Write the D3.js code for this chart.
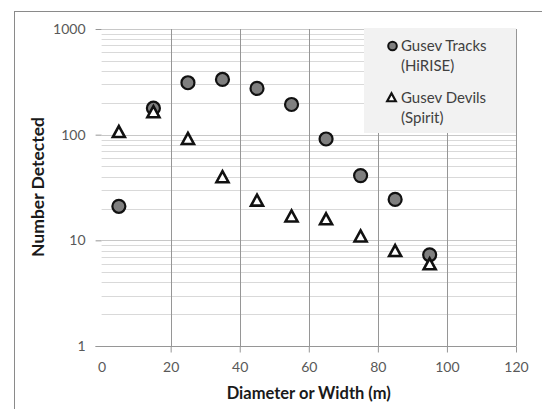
<!DOCTYPE html>
<html>
<head>
<meta charset="utf-8">
<script src="https://cdn.jsdelivr.net/npm/d3@7"></script>
<style>
  html, body { margin: 0; padding: 0; background: #fff; }
  svg { display: block; font-family: Lato, "Open Sans", sans-serif; }
</style>
</head>
<body>
<svg id="chart" width="542" height="409"></svg>
<script>
// ---- data ----
const diameters = [5, 15, 25, 35, 45, 55, 65, 75, 85, 95];
const gusevTracks = [21, 178, 310, 333, 274, 193, 91, 41, 24.4, 7.3];
const gusevDevils = [107, 165, 92, 40, 24, 17, 16, 11, 8, 6];
const xTicks = [0, 20, 40, 60, 80, 100, 120];
const yTicks = [1, 10, 100, 1000];
const seriesNames = [["Gusev Tracks", "(HiRISE)"], ["Gusev Devils", "(Spirit)"]];
const xTitle = "Diameter or Width (m)";
const yTitle = "Number Detected";

const svg = d3.select("#chart");

// outer chart border (extends past the image)
svg.append("rect").attr("x", 14.5).attr("y", 11.5).attr("width", 700).attr("height", 600)
  .attr("fill", "none").attr("stroke", "#8a8a8a").attr("stroke-width", 1);

const x = d3.scaleLinear().domain([0, 120]).range([101.6, 516]);
const y = d3.scaleLog().domain([1, 1000]).range([346, 29]);

// minor horizontal gridlines
const minor = [];
for (let d = 1; d < 1000; d *= 10) for (let k = 2; k <= 9; k++) minor.push(d * k);
svg.append("g").selectAll("line").data(minor).join("line")
  .attr("x1", x(0)).attr("x2", x(120))
  .attr("y1", d => Math.round(y(d)) + 0.5).attr("y2", d => Math.round(y(d)) + 0.5)
  .attr("stroke", "#d9d9d9").attr("stroke-width", 1);
// major horizontal gridlines
svg.append("g").selectAll("line").data(yTicks.slice(1)).join("line")
  .attr("x1", x(0)).attr("x2", x(120))
  .attr("y1", d => Math.round(y(d)) + 0.5).attr("y2", d => Math.round(y(d)) + 0.5)
  .attr("stroke", "#c8c8c8").attr("stroke-width", 1);
// vertical gridlines
svg.append("g").selectAll("line").data(xTicks.slice(1)).join("line")
  .attr("x1", d => Math.round(x(d)) + 0.5).attr("x2", d => Math.round(x(d)) + 0.5)
  .attr("y1", y(1000)).attr("y2", y(1))
  .attr("stroke", "#969696").attr("stroke-width", 1);

// x axis
const xAxis = d3.axisBottom(x).tickValues(xTicks).tickSize(6).tickPadding(10).tickSizeOuter(0);
const gx = svg.append("g").attr("transform", `translate(0,${Math.round(y(1)) + 0.5})`).call(xAxis);
gx.select(".domain").attr("stroke", "#969696").attr("d", `M${x(0) - 6},0H${Math.round(x(120)) + 0.5}`);
gx.selectAll(".tick line").attr("stroke", "#969696").filter(d => d === 0).remove();
gx.selectAll(".tick text").attr("fill", "#595959").attr("font-size", 14)
  .attr("font-family", "Lato, 'Open Sans', sans-serif");

// y axis (ticks only, no line)
const yAxis = d3.axisLeft(y).tickValues(yTicks).tickFormat(d3.format("d")).tickSize(6).tickPadding(10);
const gy = svg.append("g").attr("transform", `translate(${x(0)},0)`).call(yAxis);
gy.select(".domain").remove();
gy.selectAll(".tick line").attr("stroke", "#969696");
gy.selectAll(".tick text").attr("fill", "#595959").attr("font-size", 14)
  .attr("font-family", "Lato, 'Open Sans', sans-serif");

// axis titles
svg.append("text").attr("x", x(60)).attr("y", 399).attr("text-anchor", "middle")
  .attr("font-weight", "bold").attr("font-size", 16.5).attr("fill", "#1a1a1a").text(xTitle);
svg.append("text").attr("transform", `translate(44,187) rotate(-90)`).attr("text-anchor", "middle")
  .attr("font-weight", "bold").attr("font-size", 17.5).attr("fill", "#1a1a1a").text(yTitle);

// legend
const lg = svg.append("g");
lg.append("rect").attr("x", 364).attr("y", 28).attr("width", 152).attr("height", 105).attr("fill", "#f2f2f2");

const triPath = (s) => `M0,${-6.5 * s}L${6 * s},${4.5 * s}L${-6 * s},${4.5 * s}Z`;

// series
svg.append("g").selectAll("circle").data(diameters).join("circle")
  .attr("cx", d => x(d)).attr("cy", (d, i) => y(gusevTracks[i])).attr("r", 6.5)
  .attr("fill", "#7f7f7f").attr("stroke", "#111").attr("stroke-width", 2.2);
svg.append("g").selectAll("path").data(diameters).join("path")
  .attr("transform", (d, i) => `translate(${x(d)},${y(gusevDevils[i]) + 1})`)
  .attr("d", triPath(1)).attr("fill", "#fff").attr("stroke", "#111").attr("stroke-width", 2.6)
  .attr("stroke-linejoin", "miter");

// legend entries
lg.append("circle").attr("cx", 392.5).attr("cy", 46).attr("r", 4.3)
  .attr("fill", "#7f7f7f").attr("stroke", "#111").attr("stroke-width", 2);
lg.append("path").attr("transform", "translate(391.5,98)").attr("d", triPath(0.72))
  .attr("fill", "#fff").attr("stroke", "#111").attr("stroke-width", 2.2);
const rows = [[seriesNames[0][0], 51], [seriesNames[0][1], 71], [seriesNames[1][0], 103], [seriesNames[1][1], 123]];
lg.selectAll("text.lt").data(rows).join("text").attr("class", "lt")
  .attr("x", 401).attr("y", d => d[1]).attr("font-size", 15).attr("fill", "#404040").text(d => d[0]);
</script>
</body>
</html>
